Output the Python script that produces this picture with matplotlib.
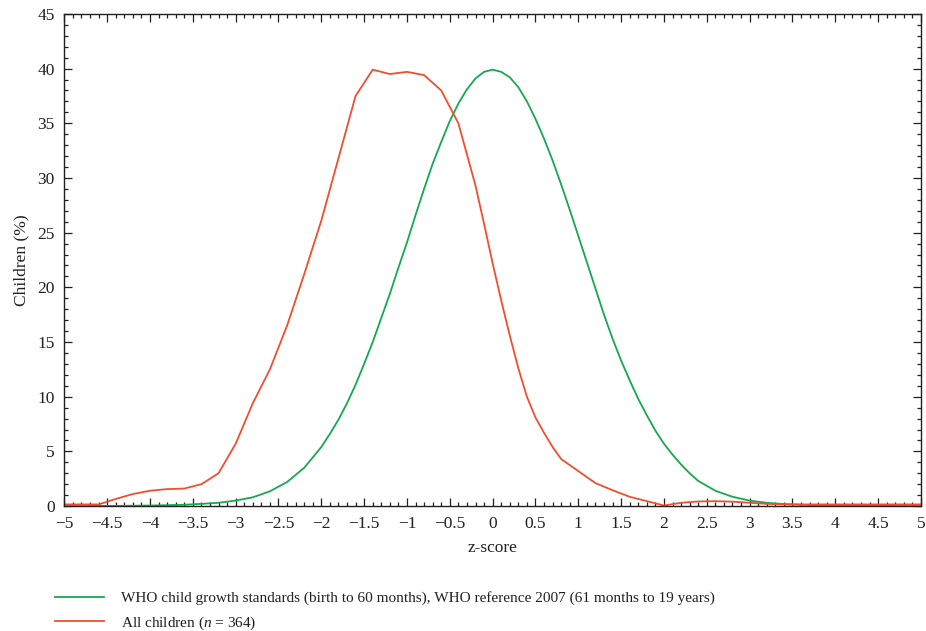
import matplotlib
matplotlib.use("Agg")
import matplotlib.pyplot as plt
from matplotlib.ticker import MultipleLocator

plt.rcParams['font.family'] = ['Liberation Serif', 'DejaVu Serif']
plt.rcParams['mathtext.fontset'] = 'custom'
plt.rcParams['mathtext.rm'] = 'Liberation Serif'
plt.rcParams['mathtext.it'] = 'Liberation Serif:italic'

# all children (n = 364)
z_children = [-5.0, -4.6, -4.4, -4.2, -4.0, -3.8, -3.6, -3.4, -3.2, -3.0, -2.8, -2.6,
              -2.4, -2.2, -2.0, -1.8, -1.6, -1.4, -1.2, -1.0, -0.8, -0.6, -0.4, -0.2,
              -0.1, 0.0, 0.1, 0.2, 0.3, 0.4, 0.5, 0.6, 0.7, 0.8, 1.0, 1.2, 1.4, 1.6,
              1.8, 2.0, 2.2, 2.4, 2.6, 2.8, 3.0, 3.2, 3.4, 5.0]
pct_children = [0.15, 0.15, 0.65, 1.1, 1.4, 1.55, 1.6, 2.0, 3.0, 5.7, 9.4, 12.5,
                16.5, 21.2, 26.1, 31.8, 37.5, 39.9, 39.5, 39.7, 39.4, 38.0, 35.0, 29.3,
                25.8, 22.2, 18.8, 15.6, 12.6, 10.0, 8.1, 6.7, 5.4, 4.3, 3.2, 2.1, 1.45, 0.85,
                0.45, 0.05, 0.3, 0.42, 0.45, 0.4, 0.3, 0.2, 0.15, 0.15]

# WHO reference curve
z_who = [-5.0, -4.8, -4.6, -4.4, -4.2, -4.0, -3.8, -3.6, -3.4, -3.2, -3.0, -2.8, -2.6,
         -2.4, -2.2,
         -2.0, -1.9, -1.8, -1.7, -1.6, -1.5, -1.4, -1.3, -1.2, -1.1,
         -1.0, -0.9, -0.8, -0.7, -0.6, -0.5, -0.4, -0.3, -0.2, -0.1,
         0.0, 0.1, 0.2, 0.3, 0.4, 0.5, 0.6, 0.7, 0.8, 0.9,
         1.0, 1.1, 1.2, 1.3, 1.4, 1.5, 1.6, 1.7, 1.8, 1.9,
         2.0, 2.1, 2.2, 2.3, 2.4, 2.6, 2.8, 3.0,
         3.2, 3.4, 3.6, 3.8, 4.0, 4.2, 4.4, 4.6, 4.8, 5.0]
pct_who = [0.0, 0.0, 0.01, 0.02, 0.03, 0.05, 0.08, 0.12, 0.2, 0.3, 0.5, 0.8, 1.35,
           2.2, 3.5,
           5.4, 6.6, 7.9, 9.4, 11.1, 13.0, 15.0, 17.2, 19.4, 21.8,
           24.1, 26.6, 29.0, 31.3, 33.3, 35.2, 36.8, 38.1, 39.1, 39.7,
           39.9, 39.7, 39.2, 38.3, 37.0, 35.4, 33.6, 31.6, 29.4, 27.1,
           24.7, 22.3, 19.9, 17.5, 15.3, 13.3, 11.5, 9.8, 8.3, 6.9,
           5.7, 4.7, 3.8, 3.0, 2.3, 1.4, 0.85, 0.5,
           0.3, 0.18, 0.12, 0.08, 0.05, 0.03, 0.02, 0.01, 0.0, 0.0]

green = '#16a850'
red = '#f04e30'
ink = '#231f20'

fig = plt.figure(figsize=(9.26, 6.31), dpi=100)
ax = fig.add_axes([0.0695, 0.198, 0.925, 0.78])

ax.plot(z_who, pct_who, color=green, lw=1.3,
        label='WHO child growth standards (birth to 60 months), WHO reference 2007 (61 months to 19 years)')
ax.plot(z_children, pct_children, color=red, lw=1.3, label='All children ($\\mathit{n}$ = 364)')

ax.set_xlim(-5, 5)
ax.set_ylim(0, 45)
ax.xaxis.set_major_locator(MultipleLocator(0.5))
ax.xaxis.set_minor_locator(MultipleLocator(0.1))
ax.yaxis.set_major_locator(MultipleLocator(5))
ax.yaxis.set_minor_locator(MultipleLocator(1))
ax.xaxis.set_major_formatter(plt.FuncFormatter(lambda v, p: ('%g' % v).replace('-', '\u2212')))

ax.tick_params(which='both', direction='in', top=True, right=True, colors=ink,
               labelsize=12.5, width=0.9)
ax.tick_params(which='major', length=6, pad=7)
ax.tick_params(which='minor', length=3)
for s in ax.spines.values():
    s.set_color(ink)
    s.set_linewidth(1.0)

ax.set_xlabel('z-score', fontsize=12.5, color=ink, labelpad=6)
ax.set_ylabel('Children (%)', fontsize=12.5, color=ink, labelpad=6)

fig.legend(loc='upper left', bbox_to_anchor=(0.045, 0.085), frameon=False,
           fontsize=11, handlelength=3.2, handletextpad=1.1, labelspacing=0.6,
           labelcolor=ink)

fig.savefig('out.png', dpi=100)
